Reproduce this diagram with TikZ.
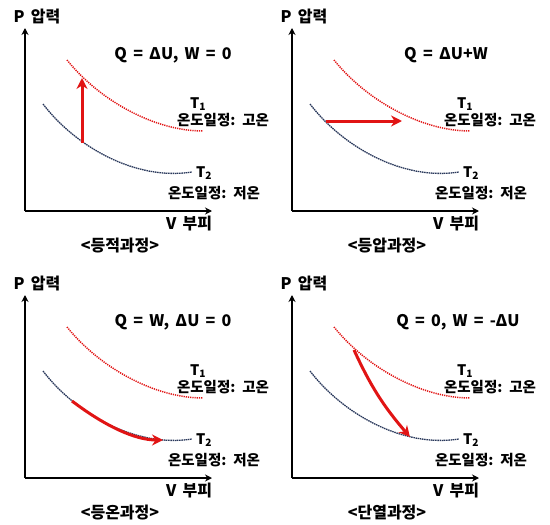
\documentclass[tikz,border=0pt]{standalone}
\usepackage{fontspec}
\setmainfont{Noto Sans CJK KR}[WordSpace=1.7]
\usetikzlibrary{arrows.meta}
\definecolor{navy}{RGB}{40,55,90}
\definecolor{hotred}{RGB}{225,20,20}
\begin{document}
\begin{tikzpicture}[
x=1pt,y=-1pt,
>=Stealth,
font=\fontsize{16}{18}\selectfont\bfseries,
axis/.style={draw,line width=1.8pt,-{Stealth[length=7pt,width=7pt]}},
hot/.style={draw,hotred,line width=1.5pt,dash pattern=on 1.2pt off 1pt},
cold/.style={draw,navy,line width=1.3pt,dash pattern=on 1.5pt off .7pt},
proc/.style={draw,hotred,line width=3pt,-{Stealth[length=11pt,width=11pt]}},
lab/.style={inner sep=0pt},
small/.style={lab,font=\fontsize{14.5}{16}\selectfont\bfseries},
]
\useasboundingbox (0,0) rectangle (550,525);

% four panels
\foreach \p/\ox/\oy/\cap/\form/\fx in {
  a/25/211/등적과정/{Q = ΔU,\ W = 0}/148,
  b/292/211/등압과정/{Q = ΔU+W}/154,
  c/25/478/등온과정/{Q = W,\ ΔU = 0}/148,
  d/292/478/단열과정/{Q = 0,\ W = -ΔU}/166}{
\begin{scope}[shift={(\ox,\oy)}]
  \coordinate (o\p) at (0,0);
  \coordinate (yt\p) at (0,-183);
  \coordinate (xt\p) at (187,0);
  \path[axis] (o\p) -- (yt\p);
  \path[axis] (o\p) -- (xt\p);

  %isotherms
  \path[hot] (42,-151) .. controls (75,-110) and (130,-80) .. (178,-80);
  \path[cold] (18,-107) .. controls (50,-65) and (110,-30) .. (167,-39);

  \node[lab] (P\p) at (12,-194) {P 압력};
  \node[lab] (V\p) at (164,13) {V 부피};
  \node[lab] (f\p) at (\fx,-156) {\form};
  \node[small] (ta\p) at (173,-107) {T\textsubscript{1}};
  \node[small] (hot\p) at (198,-91) {온도일정: 고온};
  \node[small] (tb\p) at (179,-38) {T\textsubscript{2}};
  \node[small] (cold\p) at (189,-18) {온도일정: 저온};
  \node[lab] (cap\p) at (95,35) {<\cap>};
\end{scope}
}

%processes
\coordinate (sa) at (82,143);
\coordinate (ea) at (82,78);
\path[proc] (sa) -- (ea);

\coordinate (sb) at (326,121);
\coordinate (eb) at (402,121);
\path[proc] (sb) -- (eb);

\coordinate (sc) at (72,401);
\coordinate (ec) at (163,440);
\path[proc] (sc) .. controls (105,426) and (135,440) .. (ec);

\coordinate (sd) at (354,350);
\coordinate (ed) at (410,437);
\path[proc] (sd) to[bend right=8] (ed);

\end{tikzpicture}
\end{document}
